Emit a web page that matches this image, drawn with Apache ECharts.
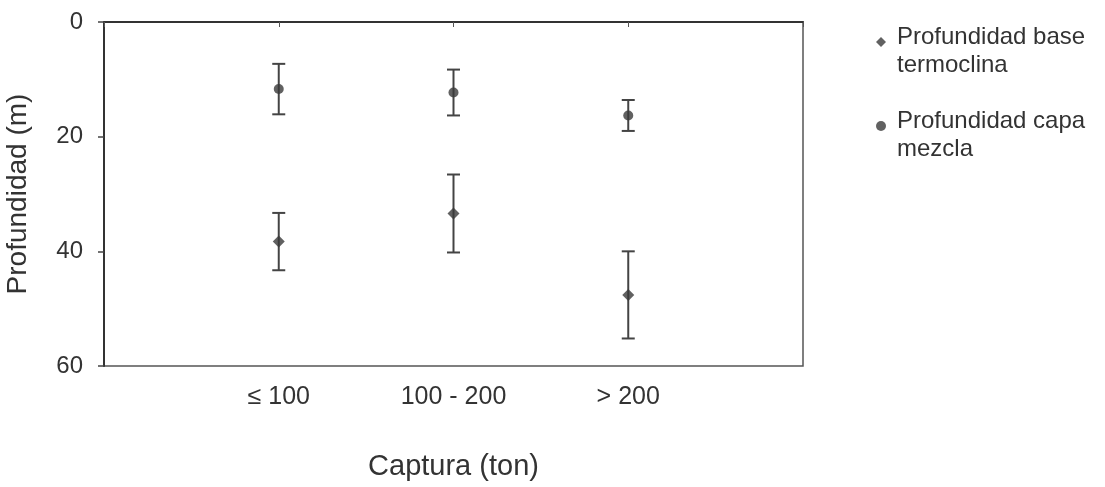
<!DOCTYPE html>
<html>
<head>
<meta charset="utf-8">
<script src="https://cdn.jsdelivr.net/npm/echarts@6/dist/echarts.min.js"></script>
<style>
html,body{margin:0;padding:0;background:#fff;}
#c{width:1105px;height:487px;}
</style>
</head>
<body>
<div id="c"></div>
<script>
const categories = ['≤ 100', '100 - 200', '> 200'];
const yTicks = [0, 20, 40, 60];
const seriesNames = ['Profundidad base termoclina', 'Profundidad capa mezcla'];
const legendLines = [['Profundidad base', 'termoclina'], ['Profundidad capa', 'mezcla']];
const termoclinaMean = [38.3, 33.4, 47.6];
const termoclinaErr = [5.0, 6.8, 7.6];
const mezclaMean = [11.7, 12.3, 16.3];
const mezclaErr = [4.4, 4.0, 2.7];

const xPos = categories.map((c, i) => i + 1);
const FONT = '"Liberation Sans", Arial, sans-serif';
const INK = '#3a3a3a';

function pts(means) { return means.map((m, i) => [xPos[i], m]); }
function errData(means, errs) { return means.map((m, i) => [xPos[i], m - errs[i], m + errs[i]]); }

function errorRender(params, api) {
  const x = api.value(0);
  const lo = api.coord([x, api.value(1)]);
  const hi = api.coord([x, api.value(2)]);
  const hw = 6.5;
  const st = { stroke: '#444', lineWidth: 2 };
  return {
    type: 'group',
    children: [
      { type: 'line', shape: { x1: lo[0], y1: lo[1], x2: hi[0], y2: hi[1] }, style: st },
      { type: 'line', shape: { x1: lo[0] - hw, y1: lo[1], x2: lo[0] + hw, y2: lo[1] }, style: st },
      { type: 'line', shape: { x1: hi[0] - hw, y1: hi[1], x2: hi[0] + hw, y2: hi[1] }, style: st }
    ]
  };
}

const legendText = {
  fontFamily: FONT, fontSize: 24, color: '#333',
  padding: [0, 0, 0, 6],
  rich: {
    s: { fontSize: 10, lineHeight: 18 },
    t: { fontFamily: FONT, fontSize: 24, color: '#333', lineHeight: 28 }
  }
};
function legendFmt(name) {
  const idx = seriesNames.indexOf(name);
  const lines = legendLines[idx];
  return '{s| }\n' + lines.map(l => '{t|' + l + '}').join('\n');
}

const chart = echarts.init(document.getElementById('c'), null, { renderer: 'canvas' });
chart.setOption({
  animation: false,
  backgroundColor: '#fff',
  grid: { left: 104, top: 22, right: 302, bottom: 121, show: true, borderColor: '#555', borderWidth: 1.5,
          containLabel: false, outerBoundsMode: 'none' },
  legend: [
    { data: [{ name: seriesNames[0], icon: 'diamond' }], left: 876, top: 9, padding: 0,
      itemWidth: 10, itemHeight: 10, textStyle: legendText, formatter: legendFmt, selectedMode: false },
    { data: [{ name: seriesNames[1], icon: 'circle' }], left: 876, top: 93, padding: 0,
      itemWidth: 10, itemHeight: 10, textStyle: legendText, formatter: legendFmt, selectedMode: false }
  ],
  xAxis: {
    type: 'value', min: 0, max: 4, interval: 1,
    name: 'Captura (ton)', nameLocation: 'middle', nameGap: 86,
    nameTextStyle: { fontFamily: FONT, fontSize: 29, color: '#333' },
    axisLine: { show: true, lineStyle: { color: '#333', width: 2 } },
    axisTick: { show: true, length: 5, lineStyle: { color: '#555', width: 1 } },
    axisLabel: {
      fontFamily: FONT, fontSize: 25, color: '#333', margin: 19,
      formatter: v => (v >= 1 && v <= categories.length && Number.isInteger(v)) ? categories[v - 1] : ''
    },
    splitLine: { show: false }
  },
  yAxis: {
    type: 'value', min: yTicks[0], max: yTicks[yTicks.length - 1], interval: 20, inverse: true,
    name: 'Profundidad (m)', nameLocation: 'middle', nameGap: 72,
    nameTextStyle: { fontFamily: FONT, fontSize: 28, color: '#333' },
    axisLine: { show: true, lineStyle: { color: '#333', width: 2 } },
    axisTick: { show: true, length: 6, lineStyle: { color: '#444', width: 1.5 } },
    axisLabel: { fontFamily: FONT, fontSize: 24, color: '#333', margin: 21 },
    splitLine: { show: false }
  },
  series: [
    { name: seriesNames[0], type: 'scatter', data: pts(termoclinaMean), symbol: 'diamond', symbolSize: 12,
      itemStyle: { color: INK }, z: 5 },
    { name: seriesNames[1], type: 'scatter', data: pts(mezclaMean), symbol: 'circle', symbolSize: 10,
      itemStyle: { color: INK }, z: 5 },
    { name: 'errT', type: 'custom', data: errData(termoclinaMean, termoclinaErr), renderItem: errorRender, z: 3,
      encode: { x: 0, y: [1, 2] } },
    { name: 'errM', type: 'custom', data: errData(mezclaMean, mezclaErr), renderItem: errorRender, z: 3,
      encode: { x: 0, y: [1, 2] } }
  ]
});
</script>
</body>
</html>
